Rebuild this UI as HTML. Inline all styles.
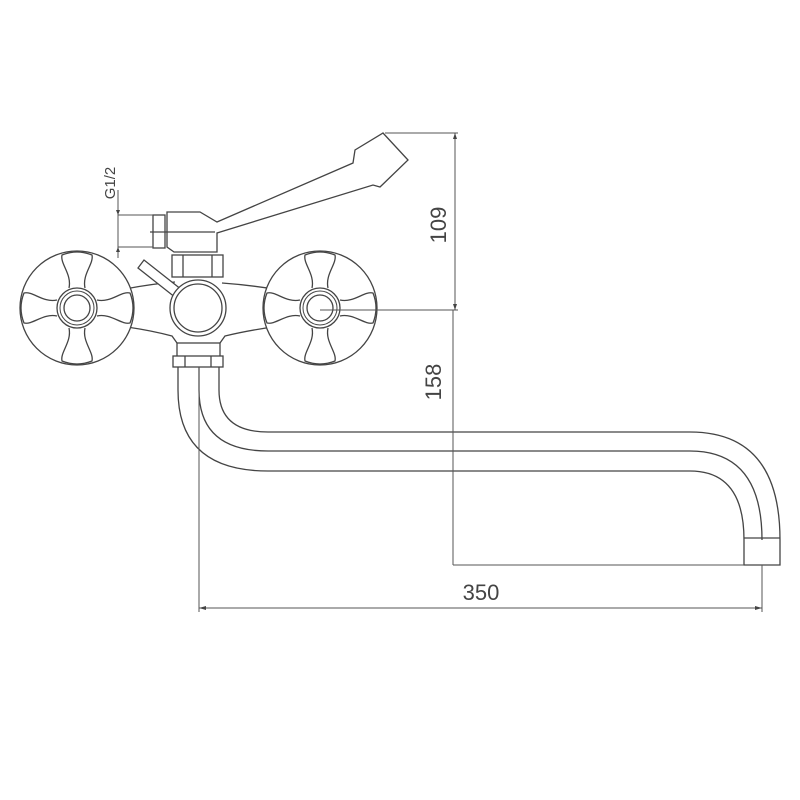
<!DOCTYPE html>
<html><head><style>html,body{margin:0;padding:0;background:#fff}svg{display:block}</style></head>
<body>
<svg width="800" height="800" viewBox="0 0 800 800" xmlns="http://www.w3.org/2000/svg">
<defs>
<g id="petal"><path d="M-8,-20 C-5,-34 -17,-44 -15,-53 Q0,-59 15,-53 C17,-44 5,-34 8,-20" fill="#fff" stroke="#444" stroke-width="1.3"/></g>
<g id="knob">
<circle r="57" fill="#fff" stroke="#444" stroke-width="1.3"/>
<use href="#petal"/><use href="#petal" transform="rotate(90)"/><use href="#petal" transform="rotate(180)"/><use href="#petal" transform="rotate(270)"/>
<circle r="20" fill="#fff" stroke="#444" stroke-width="1.3"/>
<circle r="17" fill="none" stroke="#444" stroke-width="1"/>
<circle r="13" fill="#fff" stroke="#444" stroke-width="1.3"/>
</g>
</defs>
<g fill="none" stroke="#444" stroke-width="1.3">
<path d="M120,290 Q150,284 175,282 M222,283 Q250,285 280,290" />
<path d="M120,326 Q150,330 172,336 L177,343 M220,343 L225,336 Q250,330 280,326"/>
<rect x="172" y="255" width="51" height="22" fill="#fff"/>
<line x1="183" y1="255" x2="183" y2="277"/><line x1="212" y1="255" x2="212" y2="277"/>
<path d="M167,212 L200,212 L217,222 L353,163 L355,150 L383,133 L408,160 L380,187 L373,185 L217,233 L217,252 L174,252 L167,247 Z" fill="#fff"/>
<rect x="153" y="215" width="12" height="33" fill="#fff"/>
<line x1="150" y1="232" x2="215" y2="232"/>
<path d="M138,268 L144,260 L182,290 L176,298 Z" fill="#fff"/>
<circle cx="198" cy="308" r="28" fill="#fff"/>
<circle cx="198" cy="308" r="24"/>
<rect x="177" y="343" width="43" height="14" fill="#fff"/>
<rect x="173" y="356" width="50" height="11" fill="#fff"/>
<line x1="185" y1="356" x2="185" y2="367"/><line x1="211" y1="356" x2="211" y2="367"/>
<path d="M178,367 L178,390 Q178,471 268,471 L690,471 Q744,471 744,540 L744,565 L780,565 L780,540 Q780,432 690,432 L268,432 Q219,432 219,390 L219,367"/>
<path d="M199,367 L199,390 Q199,451 268,451 L690,451 Q762,451 762,540"/>
<line x1="744" y1="538" x2="780" y2="538"/>
</g>
<use href="#knob" x="77" y="308"/>
<use href="#knob" x="320" y="308"/>
<g fill="none" stroke="#555" stroke-width="1">
<line x1="118" y1="190" x2="118" y2="258"/>
<line x1="118" y1="215" x2="153" y2="215"/><line x1="118" y1="247" x2="153" y2="247"/>
<line x1="385" y1="133" x2="458" y2="133"/>
<line x1="320" y1="310" x2="458" y2="310"/>
<line x1="455" y1="133" x2="455" y2="310"/>
<line x1="453" y1="310" x2="453" y2="565"/>
<line x1="453" y1="565" x2="744" y2="565"/>
<line x1="199" y1="367" x2="199" y2="612"/>
<line x1="762" y1="565" x2="762" y2="612"/>
<line x1="199" y1="608" x2="762" y2="608"/>
</g>
<g fill="#444">
<path d="M199,608 l7,-2 v4 z"/><path d="M762,608 l-7,-2 v4 z"/>
<path d="M455,133 l-2,6 h4 z"/><path d="M455,310 l-2,-6 h4 z"/>
<path d="M118,215 l-2,-5 h4 z"/><path d="M118,247 l-2,5 h4 z"/>
</g>
<g font-family="Liberation Sans, sans-serif" fill="#444">
<text x="481" y="600" font-size="22" text-anchor="middle">350</text>
<text transform="translate(446,225) rotate(-90)" font-size="22" text-anchor="middle">109</text>
<text transform="translate(441,382) rotate(-90)" font-size="22" text-anchor="middle">158</text>
<text transform="translate(115,183) rotate(-90)" font-size="15" text-anchor="middle">G1/2</text>
</g>
</svg>
</body></html>
